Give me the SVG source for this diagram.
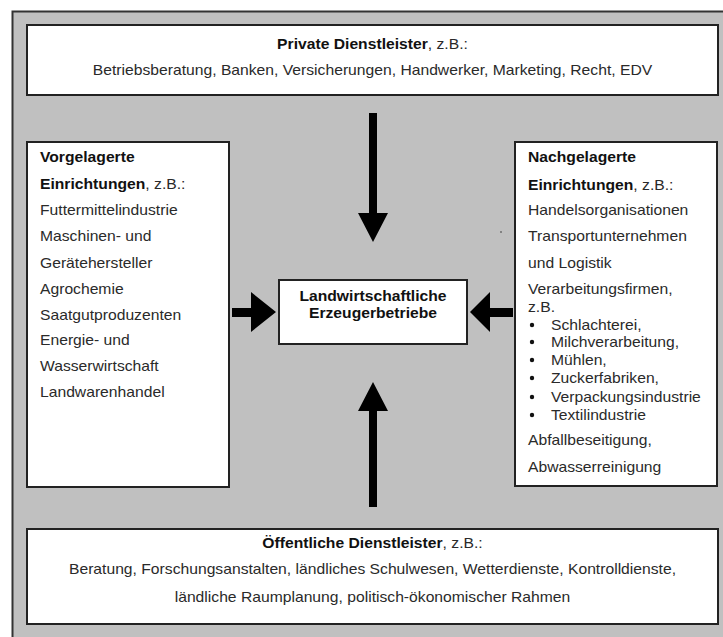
<svg xmlns="http://www.w3.org/2000/svg" width="723" height="637" viewBox="0 0 723 637">
<style>
.box{fill:#fff;stroke:#222;stroke-width:2}
.t{font-family:"Liberation Sans",Arial,sans-serif;font-size:14px;fill:#2a2a2a}
.b{font-weight:bold;fill:#111}
.c{text-anchor:middle}
.arr{fill:#000}
</style>
<rect x="0" y="0" width="723" height="637" fill="#fff"/>
<rect x="12.5" y="11.5" width="720" height="640" fill="#c0c0c0" stroke="#333" stroke-width="2"/>
<g id="private">
<rect class="box" x="27" y="25" width="691" height="70"/>
<g transform="matrix(1.12 0 0 1 -44.7 0)">
<text class="t c" x="372.5" y="49"><tspan class="b">Private Dienstleister</tspan>, z.B.:</text>
<text class="t c" x="372.5" y="75">Betriebsberatung, Banken, Versicherungen, Handwerker, Marketing, Recht, EDV</text>
</g>
</g>
<g id="vorgelagert">
<rect class="box" x="27" y="142" width="202" height="345"/>
<g transform="matrix(1.12 0 0 1 -4.8 0)">
<text class="t b" x="40" y="162">Vorgelagerte</text>
<text class="t" x="40" y="189"><tspan class="b">Einrichtungen</tspan>, z.B.:</text>
<text class="t" x="40" y="215">Futtermittelindustrie</text>
<text class="t" x="40" y="241">Maschinen- und</text>
<text class="t" x="40" y="268">Gerätehersteller</text>
<text class="t" x="40" y="294">Agrochemie</text>
<text class="t" x="40" y="320">Saatgutproduzenten</text>
<text class="t" x="40" y="345">Energie- und</text>
<text class="t" x="40" y="371">Wasserwirtschaft</text>
<text class="t" x="40" y="397">Landwarenhandel</text>
</g>
</g>
<g id="nachgelagert">
<rect class="box" x="515" y="142" width="202" height="344"/>
<g transform="matrix(1.12 0 0 1 -63.36 0)">
<text class="t b" x="528" y="162">Nachgelagerte</text>
<text class="t" x="528" y="190"><tspan class="b">Einrichtungen</tspan>, z.B.:</text>
<text class="t" x="528" y="215">Handelsorganisationen</text>
<text class="t" x="528" y="241">Transportunternehmen</text>
<text class="t" x="528" y="268">und Logistik</text>
<text class="t" x="528" y="294">Verarbeitungsfirmen,</text>
<text class="t" x="528" y="312">z.B.</text>
<text class="t" x="548.5" y="330">Schlachterei,</text>
<text class="t" x="548.5" y="347">Milchverarbeitung,</text>
<text class="t" x="548.5" y="365">Mühlen,</text>
<text class="t" x="548.5" y="383">Zuckerfabriken,</text>
<text class="t" x="548.5" y="402">Verpackungsindustrie</text>
<text class="t" x="548.5" y="420">Textilindustrie</text>
<text class="t" x="528" y="445">Abfallbeseitigung,</text>
<text class="t" x="528" y="472">Abwasserreinigung</text>
</g>
<g fill="#111">
<circle cx="532" cy="325" r="2.2"/>
<circle cx="532" cy="342" r="2.2"/>
<circle cx="532" cy="360" r="2.2"/>
<circle cx="532" cy="378" r="2.2"/>
<circle cx="532" cy="397" r="2.2"/>
<circle cx="532" cy="415" r="2.2"/>
</g>
</g>
<g id="erzeuger">
<rect class="box" x="279" y="280" width="188" height="64"/>
<g transform="matrix(1.12 0 0 1 -44.76 0)">
<text class="t b c" x="373" y="301">Landwirtschaftliche</text>
<text class="t b c" x="373" y="318">Erzeugerbetriebe</text>
</g>
</g>
<g id="oeffentlich">
<rect class="box" x="27" y="529" width="691" height="95"/>
<g transform="matrix(1.12 0 0 1 -44.7 0)">
<text class="t c" x="372.5" y="548"><tspan class="b">Öffentliche Dienstleister</tspan>, z.B.:</text>
<text class="t c" x="372.5" y="574">Beratung, Forschungsanstalten, ländliches Schulwesen, Wetterdienste, Kontrolldienste,</text>
<text class="t c" x="372.5" y="602">ländliche Raumplanung, politisch-ökonomischer Rahmen</text>
</g>
</g>
<g id="connectors" class="arr">
<polygon points="369,113 377,113 377,213 388,213 373,242 358,213 369,213"/>
<polygon points="369,507 377,507 377,411 388,411 373,382 358,411 369,411"/>
<polygon points="232,308 251,308 251,292 276,312 251,332 251,317 232,317"/>
<polygon points="513,308 490,308 490,292 470,312 490,332 490,317 513,317"/>
</g>
<circle cx="501" cy="232" r="0.8" fill="#333"/>
</svg>
